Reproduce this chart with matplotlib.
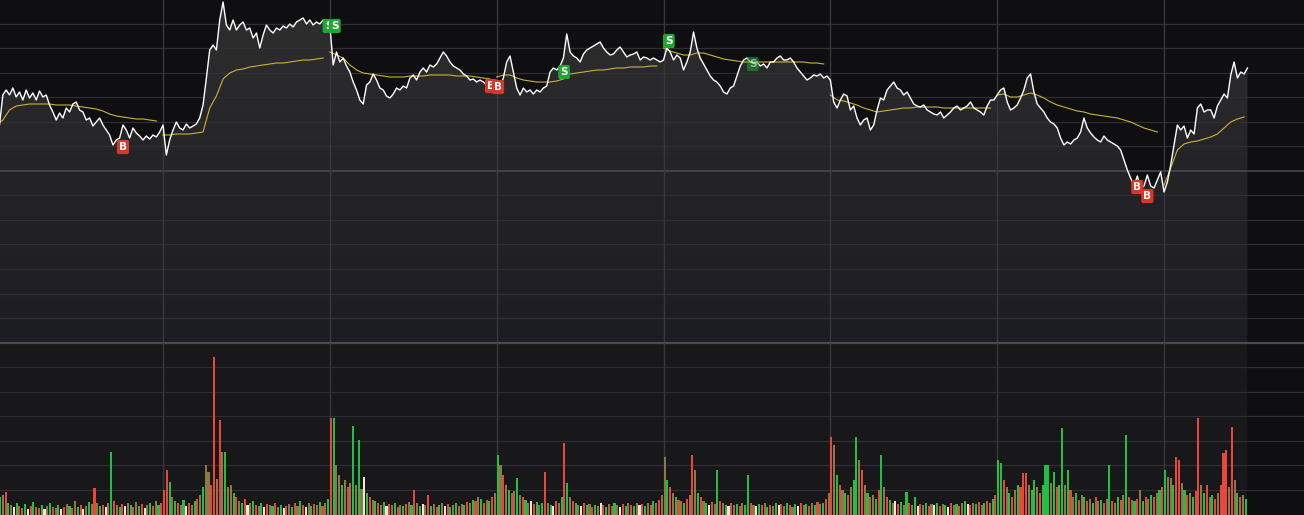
import numpy as np
import matplotlib
matplotlib.use("Agg")
import matplotlib.pyplot as plt
from matplotlib.colors import LinearSegmentedColormap

# intraday price, 50 samples per session (last session is half a day)
price_days = [
    [22.2, 22.5, 25.5, 26.0, 25.5, 26.2, 25.3, 25.8, 25.0, 26.0, 25.2, 25.7, 25.0, 25.9, 25.3, 25.5, 24.5, 23.8, 23.0, 23.7,
     23.2, 24.2, 23.8, 24.6, 24.8, 24.0, 23.8, 23.0, 23.2, 22.4, 22.8, 23.2, 22.5, 22.0, 21.5, 20.5, 21.0, 21.2, 22.5, 22.0,
     21.2, 22.2, 21.7, 21.4, 21.0, 21.4, 21.1, 21.5, 21.3, 21.8],
    [22.5, 19.5, 21.0, 22.0, 22.8, 22.2, 22.0, 22.6, 22.2, 22.4, 22.6, 23.2, 24.5, 27.2, 30.0, 30.5, 30.0, 33.0, 34.8, 32.5,
     32.0, 33.0, 32.0, 32.5, 32.8, 32.0, 32.2, 31.2, 31.7, 30.2, 31.5, 32.5, 32.0, 31.7, 32.2, 32.0, 32.4, 32.2, 32.6, 32.3,
     32.8, 33.0, 33.2, 32.6, 33.0, 32.5, 32.8, 32.6, 33.0, 32.8],
    [32.5, 28.5, 29.8, 28.8, 29.2, 28.4, 27.8, 26.8, 26.0, 25.0, 24.6, 26.5, 26.8, 27.6, 27.0, 26.2, 26.0, 25.4, 25.2, 25.6,
     26.2, 26.0, 26.4, 26.2, 27.2, 27.5, 27.0, 27.8, 28.2, 27.8, 28.5, 28.3, 28.6, 29.2, 29.8, 29.4, 28.8, 28.4, 28.2, 28.0,
     27.6, 27.4, 27.0, 27.1, 26.8, 27.0, 26.8, 26.5, 26.9, 26.7],
    [25.8, 26.2, 27.2, 28.8, 29.4, 27.8, 26.2, 25.5, 26.2, 25.8, 26.0, 25.6, 26.0, 25.8, 26.2, 26.4, 27.8, 28.2, 28.0, 28.4,
     29.2, 31.6, 29.8, 29.4, 29.2, 28.8, 29.6, 30.0, 30.2, 30.4, 30.6, 30.8, 30.2, 29.8, 29.5, 29.6, 30.0, 30.3, 29.8, 29.3,
     29.5, 29.6, 29.8, 29.0, 29.3, 29.2, 29.0, 29.2, 29.0, 28.8],
    [29.0, 30.2, 29.8, 29.0, 29.5, 29.2, 28.0, 28.8, 29.8, 31.8, 30.2, 29.2, 28.6, 28.0, 27.4, 27.0, 26.8, 26.4, 25.8, 25.6,
     26.2, 26.4, 27.4, 28.4, 29.0, 29.2, 28.8, 28.7, 28.8, 28.4, 28.6, 28.2, 28.8, 28.8, 29.2, 29.4, 29.0, 29.0, 29.2, 28.8,
     28.2, 27.8, 27.4, 27.0, 27.2, 27.5, 27.4, 27.6, 27.2, 27.4],
    [27.0, 24.8, 24.2, 25.0, 25.6, 25.4, 24.0, 24.4, 23.2, 22.5, 23.0, 23.2, 22.0, 22.5, 24.0, 25.2, 25.0, 26.0, 26.4, 26.8,
     26.2, 26.0, 25.5, 25.8, 25.2, 24.6, 24.4, 24.3, 24.5, 24.0, 23.8, 23.6, 23.5, 23.8, 23.2, 23.5, 23.8, 24.2, 24.4, 24.0,
     24.2, 24.4, 24.8, 24.2, 24.0, 23.8, 23.5, 24.4, 25.0, 25.0],
    [25.5, 26.0, 26.2, 24.8, 24.0, 24.2, 24.5, 25.2, 26.0, 27.2, 27.6, 25.8, 24.6, 24.2, 23.8, 23.2, 22.8, 22.6, 22.2, 21.2,
     20.5, 20.8, 20.6, 21.0, 21.2, 21.8, 23.2, 22.2, 21.7, 21.3, 21.0, 20.8, 21.4, 21.0, 20.8, 20.6, 20.4, 20.0, 19.0, 18.0,
     17.2, 16.4, 17.4, 16.2, 16.4, 17.5, 16.4, 16.2, 17.0, 17.8],
    [15.8, 16.8, 18.5, 20.5, 22.5, 22.0, 22.4, 21.2, 22.0, 21.6, 24.2, 24.6, 23.8, 24.0, 24.0, 23.2, 24.4, 25.0, 25.6, 25.2,
     27.5, 28.8, 27.2, 27.8, 27.6, 28.2],
]

# average price line, 25 samples per session
avg_days = [
    [22.5, 23.0, 24.0, 24.4, 24.5, 24.6, 24.6, 24.6, 24.6, 24.5, 24.5, 24.5, 24.4, 24.3, 24.2, 24.1, 23.9, 23.6, 23.4, 23.3,
     23.2, 23.1, 23.1, 23.0, 22.9],
    [21.5, 21.5, 21.6, 21.6, 21.6, 21.7, 21.8, 24.2, 25.4, 27.1, 27.7, 28.0, 28.1, 28.3, 28.4, 28.5, 28.6, 28.7, 28.7, 28.8,
     28.9, 29.0, 29.0, 29.1, 29.2],
    [29.8, 29.5, 29.2, 28.5, 28.0, 27.7, 27.6, 27.5, 27.4, 27.3, 27.3, 27.3, 27.4, 27.4, 27.4, 27.5, 27.5, 27.5, 27.5, 27.4,
     27.4, 27.4, 27.3, 27.2, 27.1],
    [27.3, 27.5, 27.5, 27.2, 27.0, 26.9, 26.8, 26.8, 26.8, 26.9, 27.1, 27.6, 27.7, 27.8, 27.9, 28.0, 28.0, 28.1, 28.2, 28.2,
     28.3, 28.3, 28.3, 28.4, 28.4],
    [30.2, 29.9, 29.7, 29.5, 29.5, 29.7, 29.7, 29.5, 29.3, 29.1, 29.0, 28.9, 28.8, 28.8, 28.8, 28.8, 28.8, 28.8, 28.8, 28.8,
     28.8, 28.8, 28.7, 28.7, 28.6],
    [25.5, 25.0, 24.9, 24.7, 24.5, 24.2, 24.0, 23.8, 23.9, 24.0, 24.1, 24.2, 24.2, 24.3, 24.3, 24.3, 24.3, 24.2, 24.2, 24.2,
     24.2, 24.2, 24.2, 24.2, 24.2],
    [25.5, 25.6, 25.3, 25.3, 25.5, 25.7, 25.5, 25.2, 24.8, 24.5, 24.3, 24.1, 23.9, 23.8, 23.6, 23.5, 23.4, 23.3, 23.2, 23.0,
     22.8, 22.5, 22.2, 22.0, 21.8],
    [16.5, 18.2, 20.0, 20.6, 20.8, 20.9, 21.1, 21.3, 21.6, 22.2, 22.8, 23.1, 23.3],
]

# volume, 60 bars per session; colour codes r=down g=up o=mixed w=flat
vol_days = [
    [14, 18, 20, 23, 12, 10, 8, 12, 9, 7, 11, 6, 9, 13, 8, 7, 10, 6, 9, 12, 8, 7, 10, 6, 8, 11, 9, 7, 14, 8,
     10, 6, 9, 13, 11, 27, 12, 9, 10, 8, 12, 63, 14, 10, 8, 11, 9, 12, 10, 8, 13, 9, 11, 7, 10, 12, 9, 14, 10, 12],
    [25, 45, 33, 18, 14, 12, 10, 15, 9, 12, 10, 14, 16, 20, 28, 50, 43, 30, 158, 36, 95, 63, 63, 28, 30, 22, 18, 14, 12, 16,
     10, 12, 14, 10, 9, 12, 8, 11, 10, 9, 12, 8, 10, 7, 9, 11, 8, 12, 9, 14, 10, 8, 12, 9, 11, 10, 13, 9, 12, 16],
    [97, 97, 50, 40, 30, 35, 28, 32, 89, 30, 75, 26, 38, 22, 18, 15, 14, 12, 10, 13, 9, 11, 10, 12, 8, 10, 9, 11, 13, 10,
     25, 12, 9, 11, 10, 20, 9, 11, 8, 10, 12, 9, 11, 8, 10, 12, 9, 11, 10, 13, 12, 15, 14, 18, 16, 12, 15, 14, 18, 22],
    [60, 50, 40, 30, 25, 22, 24, 37, 20, 18, 15, 12, 14, 11, 13, 10, 12, 43, 12, 10, 9, 14, 12, 18, 72, 32, 18, 14, 12, 10,
     9, 12, 10, 11, 8, 10, 9, 12, 10, 8, 11, 9, 12, 10, 8, 11, 9, 12, 10, 9, 12, 10, 11, 9, 12, 10, 14, 12, 15, 20],
    [58, 35, 28, 22, 18, 15, 14, 12, 16, 20, 60, 45, 22, 18, 14, 12, 10, 13, 11, 45, 14, 12, 10, 9, 12, 10, 11, 9, 12, 10,
     40, 12, 10, 9, 11, 10, 12, 8, 10, 9, 12, 10, 11, 9, 12, 10, 8, 11, 9, 12, 10, 11, 9, 12, 10, 13, 11, 12, 16, 22],
    [78, 70, 40, 30, 25, 22, 20, 28, 35, 78, 55, 45, 30, 22, 18, 20, 16, 25, 60, 28, 18, 15, 12, 14, 11, 13, 10, 23, 12, 10,
     18, 9, 11, 10, 12, 9, 11, 10, 12, 9, 11, 10, 8, 12, 10, 11, 9, 12, 14, 11, 10, 12, 11, 13, 10, 12, 14, 12, 16, 20],
    [55, 52, 35, 28, 22, 18, 25, 30, 28, 42, 42, 30, 25, 35, 28, 22, 30, 50, 50, 32, 43, 28, 30, 87, 30, 45, 25, 18, 22, 15,
     20, 18, 14, 16, 12, 18, 14, 15, 12, 16, 50, 14, 12, 18, 15, 20, 80, 18, 15, 14, 16, 25, 14, 18, 16, 20, 18, 22, 25, 28],
    [45, 38, 37, 30, 58, 55, 32, 25, 20, 22, 18, 24, 97, 30, 22, 30, 18, 20, 16, 22, 30, 62, 65, 28, 88, 35, 22, 18, 20, 16],
]
vol_colors = [
    "rgorgowgro" "gwrgorgwog" "rogwrogrog" "rwogorogrw" "ogrogrwogr" "ogrwogrogr",
    "rrgogrogwr" "ogrogoorro" "rogoogrogr" "wogrogwrog" "rogwrogrog" "rwogrogrog",
    "rgoogorogo" "gowgrogrog" "wrogrogrog" "rogworgorg" "owrgogrogr" "ogrogrogro",
    "gorogrogor" "gowrgogrog" "wrogrgorgo" "wrgorgowrg" "orgowrgorg" "owrgorgoro",
    "ogrogrogro" "rogrogwrog" "rogwrogrog" "growgrogro" "gwrogrogwr" "ogrogrogro",
    "rogrogrogg" "orogrogrgo" "rgowrgogro" "gwrogrowgr" "ogwrogrogw" "rogrogrogr",
    "ggrogrogrr" "roggorgggo" "grggogrogr" "ogrogrogro" "grogrogrog" "rogrogrogr",
    "googrrogro" "grrogrogro" "rrrorogrog",
]

# buy / sell signals: session, sample index, kind, price
sig_day = [1, 2, 2, 3, 3, 4, 4, 0, 6, 6]
sig_idx = [49.6, 1.5, 48.3, 0.4, 20.2, 1.6, 26.8, 38, 42, 45]
sig_kind = ["S", "S", "B", "B", "S", "S", "S", "B", "B", "B"]
sig_price = [32.4, 32.4, 26.4, 26.3, 27.8, 30.9, 28.6, 20.3, 16.3, 15.4]
sig_alpha = [1, 1, 1, 1, 1, 1, 0.55, 1, 1, 1]

BG = "#0f0f12"
fig = plt.figure(figsize=(13.04, 5.15), dpi=100, facecolor=BG)
ax = fig.add_axes([0, 172 / 515, 1, 343 / 515])
axv = fig.add_axes([0, 0, 1, 172 / 515])
XMIN, XMAX = 0.023, 7.839
PLO, PHI = 0.7, 35.0
VHI = 172

for a in (ax, axv):
    a.set_facecolor(BG)
    a.set_xlim(XMIN, XMAX)
    a.set_xticks([])
    a.set_yticks([])
    for s in a.spines.values():
        s.set_visible(False)
ax.set_ylim(PLO, PHI)
axv.set_ylim(0, VHI)

# assemble series
px, py = [], []
for d, vals in enumerate(price_days):
    px += [d + j / 50 for j in range(len(vals))]
    py += vals
px = np.array(px)
py = np.array(py)
x_end = px[-1]

# gradient fill under the price line
poly = ax.fill_between(px, py, PLO, color="none", lw=0)
grad = LinearSegmentedColormap.from_list("g", ["#1c1c23", "#242427", "#2f2f30"])
img = ax.imshow(np.linspace(0, 1, 256).reshape(-1, 1), cmap=grad, origin="lower",
                extent=[XMIN, x_end, PLO, PHI], aspect="auto", zorder=1)
img.set_clip_path(poly.get_paths()[0], transform=ax.transData)

# volume panel background where there is data
axv.axvspan(XMIN, x_end, color="#18181b", lw=0, zorder=0)

# horizontal grid rows (every ~24.5 px)
top_rows = [35 - (23.5 + 24.55 * k) / 10 for k in range(13)]
for k, yv in enumerate(top_rows):
    c = "#4a4a50" if k == 6 else "#2e2e34"
    ax.axhline(yv, color=c, lw=1.1 if k == 6 else 0.9, zorder=1.5)
for k in range(1, 7):
    axv.axhline(172 - (24.55 * k - 0.3), color="#2e2e34", lw=0.9, zorder=0.5)
axv.axhline(VHI, color="#4a4a50", lw=1.6, zorder=0.5, clip_on=False)

# session separators
for d in range(1, 8):
    ax.axvline(d, color="#37373d", lw=1.0, zorder=1.6)
    axv.axvline(d, color="#37373d", lw=1.0, zorder=0.6)

# average line per session
for d, vals in enumerate(avg_days):
    ax.plot([d + k / 25 for k in range(len(vals))], vals, color="#c9b23a", lw=0.8, zorder=2.5)

ax.plot(px, py, color="white", lw=1.0, zorder=3)

# signals (earlier ones drawn first, later ones cover them)
for n, (d, i, kind, p, al) in enumerate(zip(sig_day, sig_idx, sig_kind, sig_price, sig_alpha)):
    fc = "#d8382a" if kind == "B" else "#21a533"
    ax.text(d + i / 50, p, kind, color="white", fontsize=7.5, fontweight="bold",
            ha="center", va="center", zorder=4 + n * 0.01, alpha=al,
            bbox=dict(boxstyle="round,pad=0.2", fc=fc, ec="none", alpha=al))

# volume bars
cmap = {"r": "#e8483a", "g": "#22bf42", "o": "#8c7a46", "w": "#f0e6dc"}
for d, (vals, cols) in enumerate(zip(vol_days, vol_colors)):
    xs = [d + j / 60 for j in range(len(vals))]
    cs = [cmap[c] for c in cols[:len(vals)]]
    axv.bar(xs, vals, width=0.75 / 60, color=cs, align="edge", lw=0, zorder=2)

fig.savefig("out.png", dpi=100, facecolor=BG)
